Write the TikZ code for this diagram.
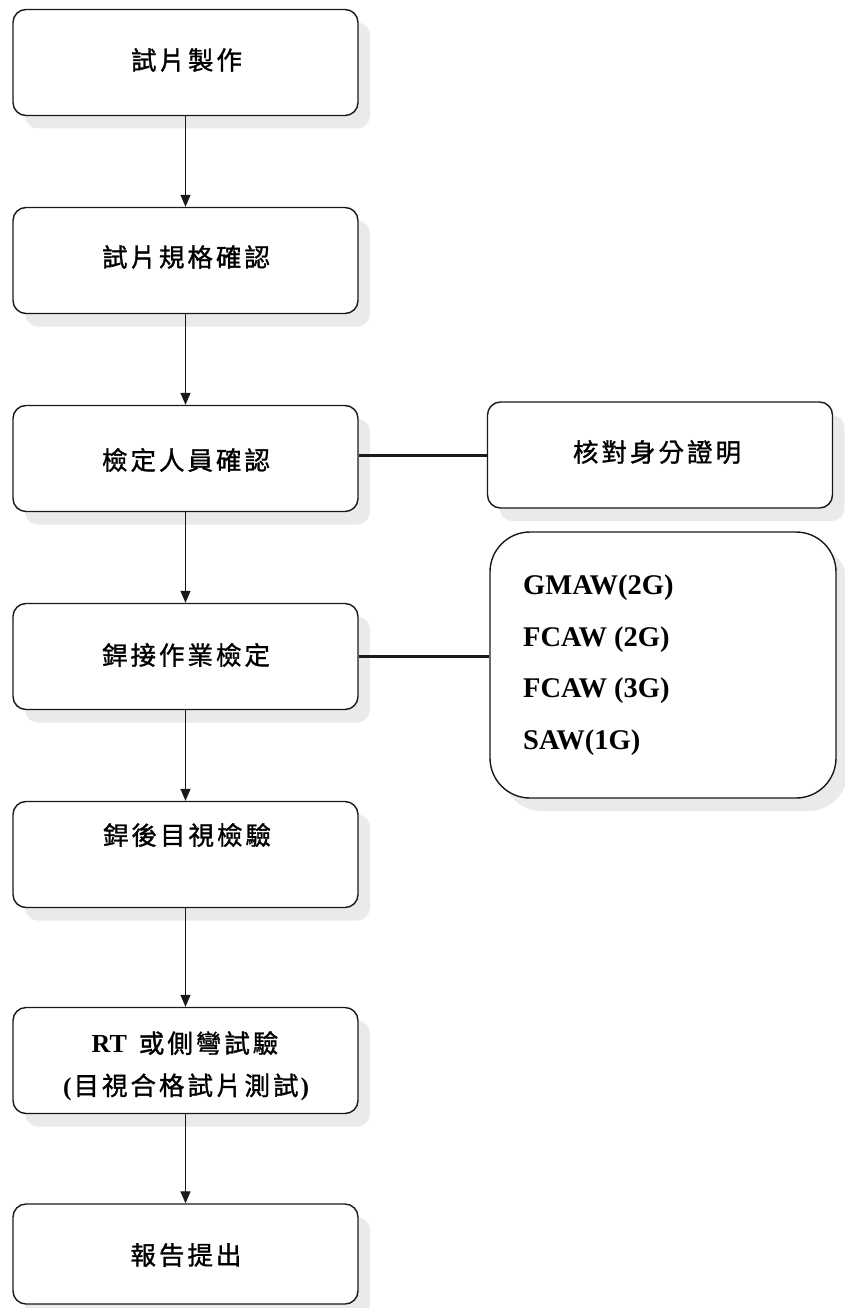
\documentclass[tikz,border=0pt]{standalone}
\usepackage{fontspec}
\setmainfont{Liberation Serif}
\newfontfamily\cjk{Noto Sans CJK TC}[FakeBold=1.2]
\usetikzlibrary{arrows.meta,shadows}
\newcommand\LS{\kern3pt}
\begin{document}
\begin{tikzpicture}[x=1pt,y=-1pt,
  box/.style={draw=black!90, line width=1.4pt, rounded corners=13pt, fill=white,
    minimum width=345pt, minimum height=106pt, inner sep=0pt,
    drop shadow={shadow xshift=12pt, shadow yshift=-13pt, fill=gray!40, opacity=0.4}},
  bigbox/.style={box, rounded corners=40pt, minimum width=346pt, minimum height=266pt},
  flow/.style={draw=black!90, line width=1.2pt, -{Triangle[width=10pt,length=12pt]}},
  link/.style={draw=black!90, line width=3pt},
  cjktext/.style={font=\cjk\fontsize{25.5pt}{30pt}\selectfont, inner sep=0pt},
  latintext/.style={font=\bfseries\fontsize{28.5pt}{51.7pt}\selectfont, inner sep=0pt, align=left}
]
\useasboundingbox (0,0) rectangle (844,1308);
\fill[white] (0,0) rectangle (844,1308);

% left column boxes
\node[box] (b1) at (185.5,62.5) {};
\node[box] (b2) at (185.5,260.5) {};
\node[box] (b3) at (185.5,458.5) {};
\node[box] (b4) at (185.5,656.5) {};
\node[box] (b5) at (185.5,854.5) {};
\node[box] (b6) at (185.5,1060.5) {};
\node[box, minimum height=100pt] (b7) at (185.5,1254) {};

% right column boxes
\node[box] (r1) at (660,455) {};
\node[bigbox] (r2) at (663,665) {};

% texts
\node[cjktext] (t1) at (186.5,60) {試\LS 片\LS 製\LS 作};
\node[cjktext] (t2) at (186,257) {試\LS 片\LS 規\LS 格\LS 確\LS 認};
\node[cjktext] (t3) at (186,460) {檢\LS 定\LS 人\LS 員\LS 確\LS 認};
\node[cjktext] (t4) at (186,655) {銲\LS 接\LS 作\LS 業\LS 檢\LS 定};
\node[cjktext] (t5) at (187,835) {銲\LS 後\LS 目\LS 視\LS 檢\LS 驗};
\node[cjktext] (t6a) at (185,1043) {{\rmfamily\bfseries\fontsize{26pt}{30pt}\selectfont RT}\hspace{12pt}或\LS 側\LS 彎\LS 試\LS 驗};
\node[cjktext] (t6b) at (186,1087) {{\rmfamily\bfseries (}\kern2pt 目\LS 視\LS 合\LS 格\LS 試\LS 片\LS 測\LS 試\kern2pt{\rmfamily\bfseries )}};
\node[cjktext] (t7) at (186,1255) {報\LS 告\LS 提\LS 出};
\node[cjktext] (tr1) at (657,452) {核\LS 對\LS 身\LS 分\LS 證\LS 明};
\node[latintext, anchor=west] (tr2) at (523,665) {GMAW(2G)\\FCAW (2G)\\FCAW (3G)\\SAW(1G)};

% connectors
\draw[flow] (b1.south) -- (b2.north);
\draw[flow] (b2.south) -- (b3.north);
\draw[flow] (b3.south) -- (b4.north);
\draw[flow] (b4.south) -- (b5.north);
\draw[flow] (b5.south) -- (b6.north);
\draw[flow] (b6.south) -- (b7.north);
\draw[link] (r1.west -| b3.east) -- (r1.west);
\draw[link] (b4.east) -- (b4.east -| r2.west);
\end{tikzpicture}
\end{document}
